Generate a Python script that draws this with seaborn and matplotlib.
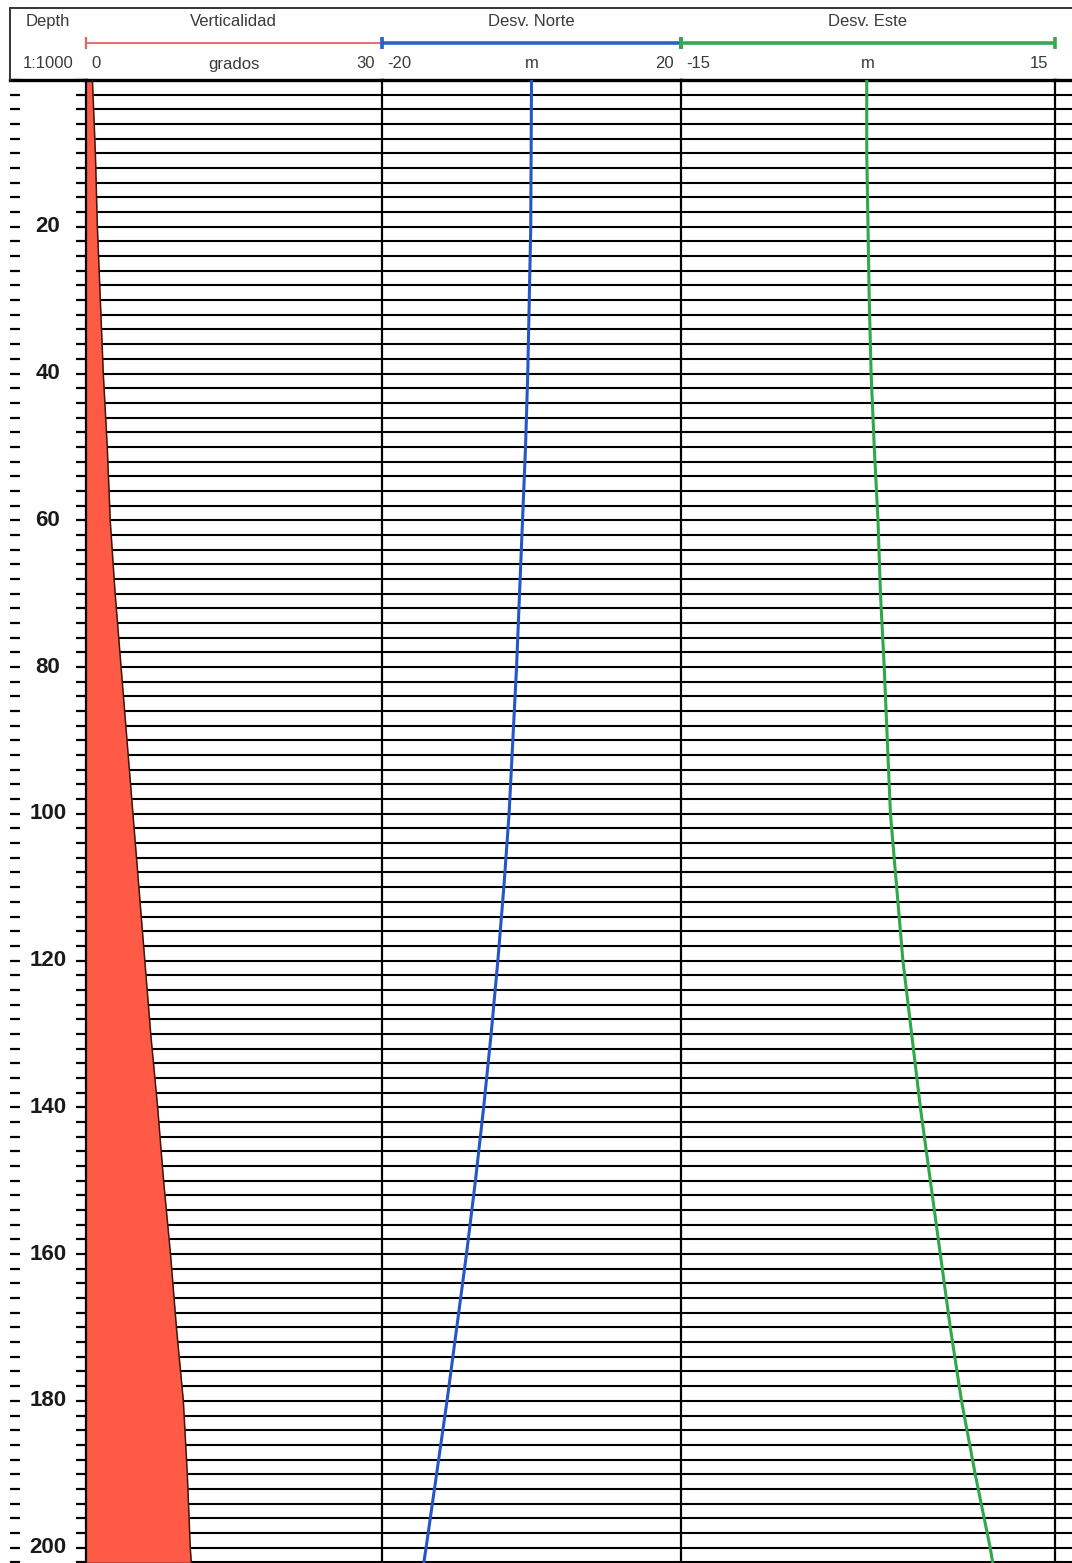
import numpy as np
import pandas as pd
import matplotlib
matplotlib.use("Agg")
import matplotlib.pyplot as plt
from matplotlib.lines import Line2D
import seaborn as sns

# ---------------- data ----------------
depth = [0, 10, 20, 30, 40, 50, 60, 70, 80, 90, 100, 110, 120, 130, 140, 150,
         160, 170, 180, 190, 200, 202]
verticalidad = [0.7, 1.0, 1.2, 1.5, 1.8, 2.2, 2.5, 3.0, 3.6, 4.2, 4.8, 5.4, 6.0,
                6.6, 7.3, 7.9, 8.6, 9.2, 9.9, 10.3, 10.6, 10.7]
desv_norte = [0.0, -0.05, -0.1, -0.3, -0.5, -0.8, -1.2, -1.6, -2.0, -2.5, -3.0,
              -3.7, -4.5, -5.4, -6.4, -7.5, -8.7, -10.0, -11.3, -12.7, -14.1, -14.4]
desv_este = [-0.1, -0.1, 0.0, 0.1, 0.25, 0.5, 0.8, 1.0, 1.3, 1.55, 1.8, 2.3, 2.8,
             3.5, 4.2, 5.0, 5.8, 6.6, 7.5, 8.6, 9.8, 10.0]

track_titles = ["Verticalidad", "Desv. Norte", "Desv. Este"]
track_units = ["grados", "m", "m"]
track_limits = [(0, 30), (-20, 20), (-15, 15)]
depth_labels = list(range(20, 201, 20))
depth_max = 202.1

df = pd.DataFrame({"depth": depth, "vert": verticalidad,
                   "norte": desv_norte, "este": desv_este})

# ---------------- style ----------------
sns.set_theme(style="white")
plt.rcParams["font.family"] = ["Liberation Sans", "DejaVu Sans"]

W, H = 1072, 1563
fig = plt.figure(figsize=(W / 100, H / 100), dpi=100)

top_px = 80
h = (H - top_px) / H


def rect(x0, x1):
    return [x0 / W, 0, (x1 - x0) / W, h]


ax_d = fig.add_axes(rect(10, 85.5))
ax1 = fig.add_axes(rect(85.5, 382), sharey=ax_d)
ax2 = fig.add_axes(rect(382, 681), sharey=ax_d)
ax3 = fig.add_axes(rect(681, 1055), sharey=ax_d)
ax4 = fig.add_axes(rect(1055, 1080), sharey=ax_d)

grid_ticks = np.arange(0, 203, 2)
txt_col = "#3a3a3a"

# depth track
ax_d.set_ylim(depth_max, 0)
ax_d.set_xlim(0, 1)
ax_d.set_xticks([])
ax_d.set_yticks(grid_ticks)
ax_d.tick_params(axis="y", left=True, right=True, direction="in",
                 length=7.5, width=1.6, color="black",
                 labelleft=False, labelright=False)
for s in ["left", "right", "bottom"]:
    ax_d.spines[s].set_visible(False)
ax_d.spines["top"].set_linewidth(2.4)
ax_d.spines["top"].set_color("black")
for d in depth_labels:
    ax_d.text(0.5, d, str(d), transform=ax_d.get_yaxis_transform(),
              ha="center", va="center", fontsize=16, fontweight="bold",
              color="#1a1a1a",
              bbox=dict(boxstyle="square,pad=0.05", fc="white", ec="none"))

# tracks
for ax, lim in zip([ax1, ax2, ax3, ax4], track_limits + [(0, 1)]):
    ax.set_xlim(*lim)
    ax.set_yticks(grid_ticks)
    ax.set_xticks([])
    ax.tick_params(axis="y", length=0, labelleft=False)
    ax.grid(axis="y", color="black", linewidth=1.5)
    ax.grid(axis="x", visible=False)
    ax.set_axisbelow(True)
    ax.spines["bottom"].set_visible(False)
    ax.spines["right"].set_visible(False)
    ax.spines["top"].set_linewidth(2.4)
    ax.spines["top"].set_color("black")
    ax.spines["left"].set_linewidth(1.6)
    ax.spines["left"].set_color("black")

# Verticalidad fill
red = "#FF5A45"
ax1.fill_betweenx(df["depth"], 0, df["vert"], color=red, lw=0, zorder=2)
sns.lineplot(data=df, x="vert", y="depth", orient="y", sort=False,
             ax=ax1, color="#3a1a10", lw=1.1, zorder=3)
sns.lineplot(data=df, x="norte", y="depth", orient="y", sort=False,
             ax=ax2, color="#2456C8", lw=2.2, zorder=3)
sns.lineplot(data=df, x="este", y="depth", orient="y", sort=False,
             ax=ax3, color="#2EA84A", lw=2.2, zorder=3)
for ax in [ax1, ax2, ax3]:
    ax.set_xlabel("")
    ax.set_ylabel("")
ax_d.set_ylim(depth_max, 0)

# ---------------- header ----------------
y_bar = 1 + (80 - 43) / (H - top_px)
y_lab = 1 + (80 - 64) / (H - top_px)
y_tit = 1 + (80 - 21) / (H - top_px)
bar_cols = ["#E06464", "#2A62C8", "#34AA50"]
bar_lw = [1.3, 2.6, 2.6]
fs = 12

for ax, title, unit, lim, bc, blw in zip([ax1, ax2, ax3], track_titles,
                                        track_units, track_limits, bar_cols, bar_lw):
    tr = ax.get_xaxis_transform()
    ax.plot(list(lim), [y_bar, y_bar], transform=tr, color=bc, lw=blw,
            clip_on=False, solid_capstyle="butt")
    ax.plot(list(lim), [y_bar, y_bar], transform=tr, color=bc, lw=0,
            marker="|", markersize=9, markeredgewidth=max(blw, 1.6), clip_on=False)
    mid = (lim[0] + lim[1]) / 2
    ax.text(mid, y_tit, title, transform=tr, ha="center", va="center",
            fontsize=fs, color=txt_col)
    ax.text(mid, y_lab, unit, transform=tr, ha="center", va="center",
            fontsize=fs, color=txt_col)
    ax.annotate(str(lim[0]), xy=(lim[0], y_lab), xycoords=tr,
                xytext=(4, 0), textcoords="offset points",
                ha="left", va="center", fontsize=fs, color=txt_col)
    ax.annotate(str(lim[1]), xy=(lim[1], y_lab), xycoords=tr,
                xytext=(-5, 0), textcoords="offset points",
                ha="right", va="center", fontsize=fs, color=txt_col)

trd = ax_d.get_xaxis_transform()
ax_d.text(0.5, y_tit, "Depth", transform=trd, ha="center", va="center",
          fontsize=fs, color=txt_col)
ax_d.text(0.5, y_lab, "1:1000", transform=trd, ha="center", va="center",
          fontsize=fs, color=txt_col)

# header frame
hy = (H - 8) / H
fig.add_artist(Line2D([10 / W, 1.0], [hy, hy], transform=fig.transFigure,
                      color="#333333", lw=1.4))
fig.add_artist(Line2D([10 / W, 10 / W], [hy, h], transform=fig.transFigure,
                      color="#333333", lw=1.4))

fig.savefig("out.png", dpi=100, facecolor="white")
